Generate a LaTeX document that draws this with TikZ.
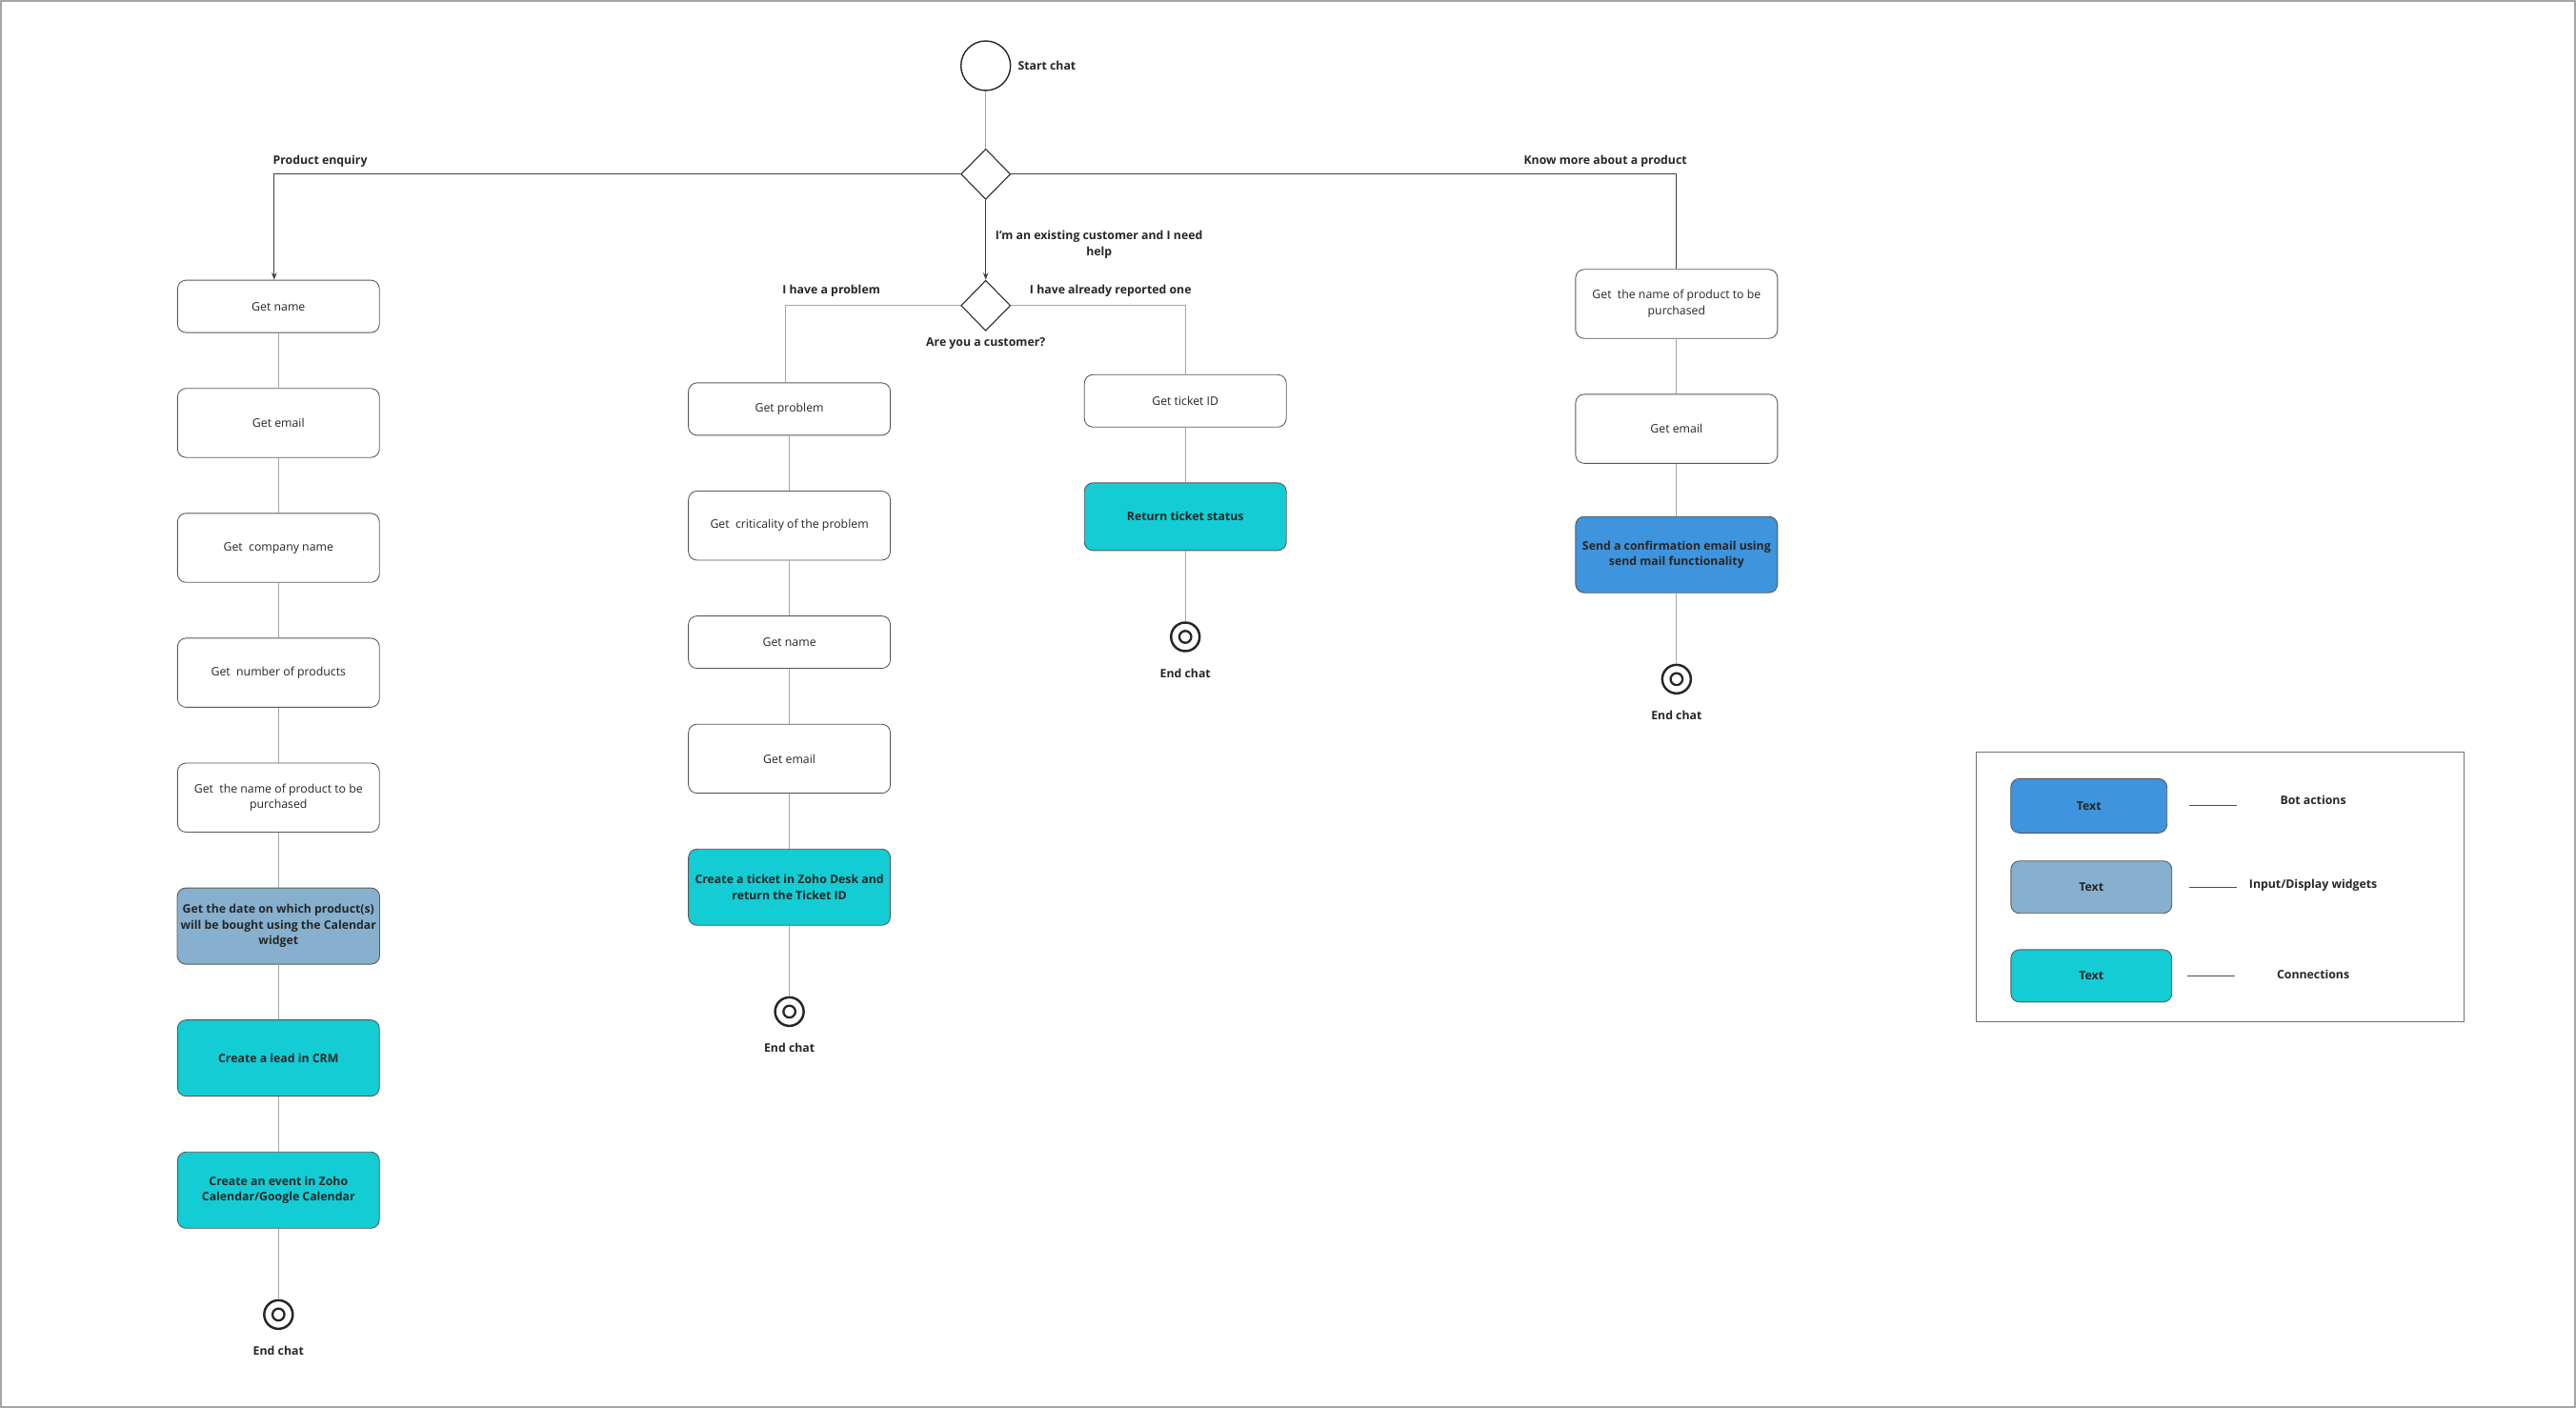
\documentclass[tikz,border=0pt]{standalone}
\usepackage{fontspec}
\setmainfont{Open Sans}
\usetikzlibrary{positioning,shapes.geometric,arrows.meta}
\definecolor{botblue}{RGB}{62,148,221}
\definecolor{widgetblue}{RGB}{134,176,206}
\definecolor{conncyan}{RGB}{20,204,212}
\definecolor{inkgray}{RGB}{38,38,38}

\begin{document}
\begin{tikzpicture}[
  x=0.0345cm, y=-0.0345cm,
  every node/.style={font=\fontsize{7}{9.5}\selectfont, text=inkgray},
  node distance=1.155cm,
  box/.style={draw=black!65, rounded corners=1.8mm, fill=white, line width=0.5pt,
    minimum width=4.24cm, minimum height=1.45cm, align=center, inner sep=2pt},
  short/.style={box, minimum height=1.1cm},
  conn/.style={box, fill=conncyan, font=\fontsize{7}{9.5}\selectfont\bfseries, minimum height=1.6cm},
  bot/.style={conn, fill=botblue},
  widget/.style={conn, fill=widgetblue},
  decision/.style={diamond, draw=black!85, fill=white, line width=0.6pt, aspect=1,
    minimum width=1.04cm, minimum height=1.06cm, inner sep=0pt},
  endpt/.style={circle, draw=black!85, line width=1.4pt, minimum size=0.6cm, inner sep=0pt,
    path picture={\draw[black!85, line width=1.3pt] (path picture bounding box.center) circle (1.25mm);}},
  lbl/.style={font=\fontsize{7}{9.8}\selectfont\bfseries, inner sep=1pt, align=center},
  link/.style={draw=black!35, line width=0.5pt},
  branch/.style={draw=black!75, line width=0.6pt},
  arr/.style={-{Stealth[length=1.5mm,width=1.1mm]}},
  keyline/.style={draw=black!70, line width=0.6pt}
]
\useasboundingbox (0,0) rectangle (1568,857);
\draw[black!35, line width=1.2pt] (0.6,0.6) rectangle (1567.4,856.4);

% start and the two questions
\node[circle, draw=black!85, line width=0.8pt, minimum size=1.04cm] (start) at (600,40) {};
\node[lbl, right=0.1cm of start] (startlbl) {Start chat};
\node[decision] (dec) at (600,106) {};
\node[decision] (cust) at (600,186) {};
\node[lbl] (custlbl) at (600,209) {Are you a customer?};

% product enquiry
\node[short] (pname) at (169.5,186.5) {Get name};
\node[box, below=of pname] (pemail) {Get email};
\node[box, below=of pemail] (pcomp) {Get~ company name};
\node[box, below=of pcomp] (pnum) {Get~ number of products};
\node[box, below=of pnum] (pprod) {Get~ the name of product to be\\purchased};
\node[widget, below=of pprod] (pdate) {Get the date on which product(s)\\will be bought using the Calendar\\widget};
\node[conn, below=of pdate] (plead) {Create a lead in CRM};
\node[conn, below=of plead] (pevent) {Create an event in Zoho\\Calendar/Google Calendar};
\node[endpt, below=1.48cm of pevent] (pend) {};
\node[lbl, below=0.3cm of pend] (pendlbl) {End chat};

% existing customer, new problem
\node[short] (prob) at (480.5,249) {Get problem};
\node[box, below=of prob] (crit) {Get~ criticality of the problem};
\node[short, below=of crit] (cname) {Get name};
\node[box, below=of cname] (cemail) {Get email};
\node[conn, below=of cemail] (ticket) {Create a ticket in Zoho Desk and\\return the Ticket ID};
\node[endpt, below=1.48cm of ticket] (cend) {};
\node[lbl, below=0.3cm of cend] (cendlbl) {End chat};

% already reported
\node[short] (tid) at (721.5,244) {Get ticket ID};
\node[conn, below=of tid, minimum height=1.42cm] (status) {Return ticket status};
\node[endpt, below=1.48cm of status] (tend) {};
\node[lbl, below=0.3cm of tend] (tendlbl) {End chat};

% know more about a product
\node[box] (kname) at (1020.5,185) {Get~ the name of product to be\\purchased};
\node[box, below=of kname] (kemail) {Get email};
\node[bot, below=1.1cm of kemail] (kmail) {Send a confirmation email using\\send mail functionality};
\node[endpt, below=1.48cm of kmail] (kend) {};
\node[lbl, below=0.3cm of kend] (kendlbl) {End chat};

% branches
\draw[link] (start) -- (dec);
\draw[branch, arr] (dec.west) -| ([xshift=-0.09cm]pname.north);
\draw[branch] (dec.east) -| (kname.north);
\draw[branch, arr] (dec) -- (cust);
\draw[link] (cust.west) -| ([xshift=-0.08cm]prob.north);
\draw[link] (cust.east) -| (tid.north);
\node[lbl, anchor=west] (pelbl) at (165,98) {Product enquiry};
\node[lbl, anchor=east] (kmlbl) at (1028,98) {Know more about a product};
\node[lbl] (exlbl) at (669,149) {I'm an existing customer and I need\\help};
\node[lbl] (problbl) at (506,177) {I have a problem};
\node[lbl] (replbl) at (676,177) {I have already reported one};

% steps
\foreach \a/\b in {pname/pemail, pemail/pcomp, pcomp/pnum, pnum/pprod, pprod/pdate,
  pdate/plead, plead/pevent, pevent/pend, prob/crit, crit/cname, cname/cemail,
  cemail/ticket, ticket/cend, tid/status, status/tend, kname/kemail, kemail/kmail,
  kmail/kend}
  \draw[link] (\a) -- (\b);

% legend
\draw[black!55, line width=0.6pt] (1203,458) rectangle (1500,622);
\node[bot, minimum width=3.28cm, minimum height=1.14cm] (lgbot) at (1271.5,490.5) {Text};
\node[widget, minimum width=3.38cm, minimum height=1.1cm] (lgwid) at (1273,540) {Text};
\node[conn, minimum width=3.38cm, minimum height=1.1cm] (lgconn) at (1273,594) {Text};
\draw[keyline] ([xshift=0.45cm]lgbot.east) -- +(1cm,0);
\draw[keyline] ([xshift=0.35cm]lgwid.east) -- +(1cm,0);
\draw[keyline] ([xshift=0.32cm]lgconn.east) -- +(1cm,0);
\node[lbl] (lgbotlbl) at (1408,487) {Bot actions};
\node[lbl] (lgwidlbl) at (1408,539) {Input/Display widgets};
\node[lbl] (lgconnlbl) at (1408,593) {Connections};
\end{tikzpicture}
\end{document}
